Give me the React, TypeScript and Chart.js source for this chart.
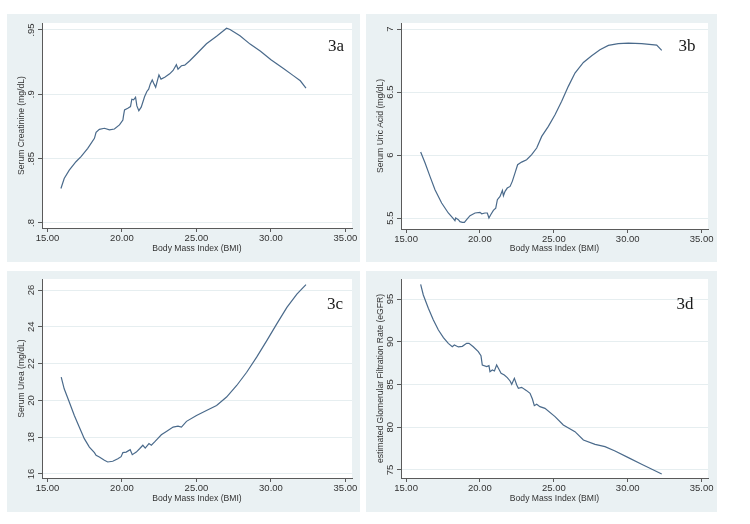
import React, { useEffect, useRef } from "react";
import { Chart, registerables } from "chart.js";

Chart.register(...registerables);

// ---- data -------------------------------------------------------------

const bmiTicks = [15, 20, 25, 30, 35];

// 3a: serum creatinine (mg/dL) by BMI
const creatBmi = [15.9, 16.12, 16.46, 16.91, 17.25, 17.7, 18.15, 18.26, 18.48, 18.82, 19.16, 19.49, 19.83, 20.06, 20.1, 20.17, 20.39, 20.57, 20.66, 20.78, 20.91, 21.0, 21.13, 21.29, 21.52, 21.67, 21.79, 21.9, 22.03, 22.12, 22.26, 22.39, 22.48, 22.62, 22.87, 23.2, 23.43, 23.65, 23.76, 23.99, 24.21, 24.55, 25.0, 25.67, 26.35, 27.02, 27.25, 27.92, 28.6, 29.3, 30.0, 30.84, 31.5, 31.97, 32.35];
const creatVal = [0.8268, 0.8346, 0.8411, 0.8476, 0.8515, 0.858, 0.8658, 0.8704, 0.8728, 0.8736, 0.8723, 0.873, 0.8762, 0.88, 0.8832, 0.8879, 0.8892, 0.8905, 0.8962, 0.8957, 0.8977, 0.891, 0.8873, 0.89, 0.8983, 0.9022, 0.904, 0.9081, 0.9112, 0.9087, 0.9055, 0.9112, 0.9151, 0.9118, 0.9133, 0.9159, 0.9185, 0.923, 0.9196, 0.9222, 0.9227, 0.9261, 0.9313, 0.9393, 0.9451, 0.9513, 0.9503, 0.9455, 0.939, 0.9335, 0.9268, 0.92, 0.9145, 0.9105, 0.9048];
const creatTicks = [0.8, 0.85, 0.9, 0.95];
const creatTickLabels = [".8", ".85", ".9", ".95"];

// 3b: serum uric acid (mg/dL) by BMI
const uricBmi = [15.99, 16.29, 16.62, 16.96, 17.41, 17.86, 18.2, 18.31, 18.36, 18.54, 18.65, 18.81, 18.95, 19.1, 19.33, 19.67, 20.0, 20.12, 20.34, 20.5, 20.61, 20.73, 20.91, 21.07, 21.18, 21.36, 21.52, 21.59, 21.7, 21.85, 22.04, 22.19, 22.37, 22.55, 22.82, 23.16, 23.5, 23.84, 24.18, 24.63, 25.08, 25.53, 25.98, 26.43, 27.0, 27.56, 28.12, 28.69, 29.36, 30.04, 30.94, 31.96, 32.3];
const uricVal = [6.024, 5.937, 5.831, 5.725, 5.619, 5.54, 5.495, 5.479, 5.5, 5.487, 5.471, 5.466, 5.466, 5.487, 5.519, 5.54, 5.545, 5.534, 5.54, 5.54, 5.5, 5.526, 5.561, 5.579, 5.646, 5.672, 5.72, 5.677, 5.712, 5.738, 5.751, 5.791, 5.857, 5.923, 5.944, 5.963, 6.003, 6.056, 6.148, 6.228, 6.32, 6.426, 6.545, 6.651, 6.735, 6.788, 6.836, 6.87, 6.884, 6.889, 6.884, 6.873, 6.831];
const uricTicks = [5.5, 6, 6.5, 7];
const uricTickLabels = ["5.5", "6", "6.5", "7"];

// 3c: serum urea (mg/dL) by BMI
const ureaBmi = [15.92, 16.12, 16.46, 16.8, 17.13, 17.47, 17.81, 18.15, 18.26, 18.48, 18.82, 19.04, 19.38, 19.72, 19.94, 20.06, 20.28, 20.55, 20.69, 20.96, 21.18, 21.4, 21.56, 21.81, 21.97, 22.19, 22.35, 22.64, 22.98, 23.43, 23.76, 23.99, 24.33, 25.0, 25.67, 26.35, 27.02, 27.7, 28.37, 29.04, 29.72, 30.39, 31.07, 31.74, 32.35];
const ureaVal = [21.26, 20.63, 19.91, 19.18, 18.55, 17.92, 17.46, 17.16, 17.01, 16.92, 16.74, 16.65, 16.69, 16.83, 16.94, 17.16, 17.19, 17.32, 17.05, 17.19, 17.37, 17.56, 17.41, 17.65, 17.56, 17.74, 17.88, 18.13, 18.31, 18.55, 18.6, 18.55, 18.86, 19.18, 19.45, 19.72, 20.18, 20.81, 21.53, 22.35, 23.25, 24.16, 25.06, 25.78, 26.29];
const ureaTicks = [16, 18, 20, 22, 24, 26];
const ureaTickLabels = ["16", "18", "20", "22", "24", "26"];

// 3d: estimated glomerular filtration rate by BMI
const egfrBmi = [15.99, 16.17, 16.51, 16.85, 17.19, 17.53, 17.86, 18.13, 18.27, 18.54, 18.81, 19.1, 19.26, 19.55, 19.89, 20.07, 20.16, 20.46, 20.61, 20.68, 20.84, 20.98, 21.13, 21.25, 21.43, 21.65, 21.85, 22.04, 22.15, 22.33, 22.49, 22.6, 22.82, 23.16, 23.39, 23.55, 23.68, 23.84, 24.06, 24.4, 25.08, 25.64, 26.43, 27.0, 27.79, 28.46, 29.14, 30.04, 30.94, 32.3];
const egfrVal = [96.72, 95.47, 93.91, 92.54, 91.37, 90.48, 89.81, 89.42, 89.62, 89.39, 89.46, 89.81, 89.81, 89.42, 88.84, 88.37, 87.28, 87.09, 87.2, 86.5, 86.7, 86.58, 87.28, 86.89, 86.31, 86.11, 85.8, 85.41, 85.02, 85.72, 84.94, 84.55, 84.67, 84.28, 83.97, 83.3, 82.52, 82.68, 82.41, 82.21, 81.24, 80.26, 79.48, 78.5, 78.0, 77.73, 77.22, 76.44, 75.66, 74.53];
const egfrTicks = [75, 80, 85, 90, 95];
const egfrTickLabels = ["75", "80", "85", "90", "95"];

// ---- styling ----------------------------------------------------------

const REGION_BG = "#eaf1f3";
const GRID = "#e6eef0";
const AXIS = "#5a5a5a";
const TEXT = "#333333";
const LINE = "#4a6a8b";
const SANS = '"Liberation Sans", Arial, sans-serif';
const SERIF = '"Liberation Serif", "Times New Roman", serif';

type Box = { x: number; y: number; w: number; h: number };
type Plot = { l: number; t: number; r: number; b: number };

type PanelProps = {
  box: Box;
  plot: Plot;
  xMin: number;
  xMax: number;
  yMin: number;
  yMax: number;
  xs: number[];
  ys: number[];
  yTicks: number[];
  yTickLabels: string[];
  yTitle: string;
  tag: string;
  tagX: number;
  tagY: number;
};

function Panel(p: PanelProps) {
  const ref = useRef<HTMLCanvasElement | null>(null);

  useEffect(() => {
    const canvas = ref.current;
    if (!canvas) return;

    // graph region colour with a white plot region
    const regionFill = {
      id: "regionFill",
      beforeDraw(chart: any) {
        const { ctx, chartArea } = chart;
        ctx.save();
        ctx.fillStyle = REGION_BG;
        ctx.fillRect(0, 0, chart.width, chart.height);
        ctx.fillStyle = "#ffffff";
        ctx.fillRect(chartArea.left, chartArea.top, chartArea.right - chartArea.left, chartArea.bottom - chartArea.top);
        ctx.restore();
      },
    };

    // vertical (rotated) y tick labels and the panel tag
    const annotations = {
      id: "annotations",
      afterDraw(chart: any) {
        const { ctx, chartArea } = chart;
        const yScale = chart.scales.y;
        ctx.save();
        ctx.fillStyle = TEXT;
        ctx.font = `9.5px ${SANS}`;
        ctx.textAlign = "center";
        ctx.textBaseline = "middle";
        p.yTicks.forEach((v, i) => {
          const py = yScale.getPixelForValue(v);
          ctx.save();
          ctx.translate(chartArea.left - 11, py);
          ctx.rotate(-Math.PI / 2);
          ctx.fillText(p.yTickLabels[i], 0, 0);
          ctx.restore();
        });
        ctx.font = `17px ${SERIF}`;
        ctx.fillStyle = "#1a1a1a";
        ctx.fillText(p.tag, p.tagX - p.box.x, p.tagY - p.box.y);
        ctx.restore();
      },
    };

    const chart = new Chart(canvas, {
      type: "line",
      data: {
        datasets: [
          {
            data: p.xs.map((x, i) => ({ x, y: p.ys[i] })),
            borderColor: LINE,
            borderWidth: 1.2,
            pointRadius: 0,
            tension: 0,
            fill: false,
          },
        ],
      },
      options: {
        animation: false,
        responsive: false,
        maintainAspectRatio: false,
        devicePixelRatio: 1,
        layout: {
          padding: {
            left: 0,
            top: p.plot.t - p.box.y,
            right: p.box.x + p.box.w - p.plot.r,
            bottom: 0,
          },
        },
        plugins: {
          legend: { display: false },
          tooltip: { enabled: false },
        },
        scales: {
          x: {
            type: "linear",
            min: p.xMin,
            max: p.xMax,
            afterBuildTicks: (s: any) => {
              s.ticks = bmiTicks.map((v) => ({ value: v }));
            },
            afterFit: (s: any) => {
              s.height = p.box.y + p.box.h - p.plot.b;
            },
            grid: {
              drawOnChartArea: false,
              drawTicks: true,
              tickLength: 4,
              tickColor: AXIS,
            },
            border: { display: true, color: AXIS, width: 1 },
            ticks: {
              autoSkip: false,
              maxRotation: 0,
              minRotation: 0,
              padding: 1,
              color: TEXT,
              font: { family: SANS, size: 9.5 },
              callback: (v: any) => Number(v).toFixed(2),
            },
            title: {
              display: true,
              text: "Body Mass Index (BMI)",
              color: TEXT,
              font: { family: SANS, size: 8.6 },
              padding: { top: 0, bottom: 8 },
            },
          },
          y: {
            type: "linear",
            min: p.yMin,
            max: p.yMax,
            afterBuildTicks: (s: any) => {
              s.ticks = p.yTicks.map((v) => ({ value: v }));
            },
            afterFit: (s: any) => {
              s.width = p.plot.l - p.box.x;
            },
            grid: {
              color: GRID,
              lineWidth: 1,
              drawTicks: true,
              tickLength: 4,
              tickColor: AXIS,
            },
            border: { display: true, color: AXIS, width: 1 },
            ticks: { display: false },
            title: {
              display: true,
              text: p.yTitle,
              color: TEXT,
              font: { family: SANS, size: 8.6 },
              padding: { top: 9.6, bottom: 0 },
            },
          },
        },
      },
      plugins: [regionFill, annotations],
    } as any);

    return () => chart.destroy();
  }, []);

  return (
    <div
      style={{
        position: "absolute",
        left: p.box.x,
        top: p.box.y,
        width: p.box.w,
        height: p.box.h,
        background: REGION_BG,
      }}
    >
      <canvas ref={ref} width={p.box.w} height={p.box.h} style={{ display: "block", width: p.box.w, height: p.box.h }} />
    </div>
  );
}

export default function App() {
  return (
    <div
      style={{
        position: "absolute",
        left: 0,
        top: 0,
        width: 750,
        height: 524,
        background: "#ffffff",
        overflow: "hidden",
      }}
    >
      <Panel
        box={{ x: 7, y: 14, w: 353, h: 248 }}
        plot={{ l: 42, t: 23, r: 352, b: 228 }}
        xMin={14.63}
        xMax={35.44}
        yMin={0.7961}
        yMax={0.9554}
        xs={creatBmi}
        ys={creatVal}
        yTicks={creatTicks}
        yTickLabels={creatTickLabels}
        yTitle="Serum Creatinine (mg/dL)"
        tag="3a"
        tagX={336}
        tagY={47}
      />
      <Panel
        box={{ x: 366, y: 14, w: 351, h: 248 }}
        plot={{ l: 401, t: 23, r: 708, b: 229 }}
        xMin={14.66}
        xMax={35.43}
        yMin={5.413}
        yMax={7.048}
        xs={uricBmi}
        ys={uricVal}
        yTicks={uricTicks}
        yTickLabels={uricTickLabels}
        yTitle="Serum Uric Acid (mg/dL)"
        tag="3b"
        tagX={687}
        tagY={47}
      />
      <Panel
        box={{ x: 7, y: 271, w: 353, h: 241 }}
        plot={{ l: 42, t: 279, r: 352, b: 478 }}
        xMin={14.63}
        xMax={35.44}
        yMin={15.78}
        yMax={26.6}
        xs={ureaBmi}
        ys={ureaVal}
        yTicks={ureaTicks}
        yTickLabels={ureaTickLabels}
        yTitle="Serum Urea (mg/dL)"
        tag="3c"
        tagX={335}
        tagY={305}
      />
      <Panel
        box={{ x: 366, y: 271, w: 351, h: 241 }}
        plot={{ l: 401, t: 279, r: 708, b: 478 }}
        xMin={14.66}
        xMax={35.43}
        yMin={74.06}
        yMax={97.34}
        xs={egfrBmi}
        ys={egfrVal}
        yTicks={egfrTicks}
        yTickLabels={egfrTickLabels}
        yTitle="estimated Glomerular Filtration Rate (eGFR)"
        tag="3d"
        tagX={685}
        tagY={305}
      />
    </div>
  );
}
